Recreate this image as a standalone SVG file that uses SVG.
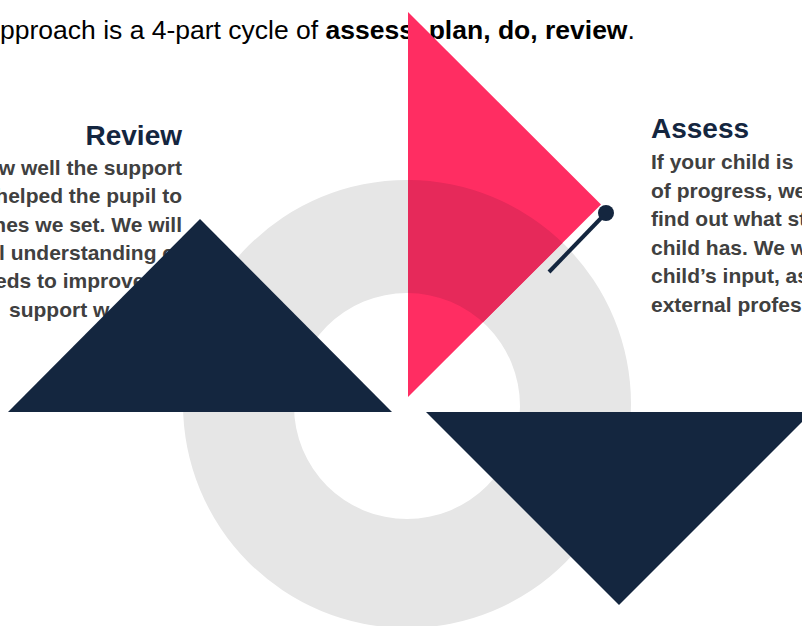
<svg xmlns="http://www.w3.org/2000/svg" width="802" height="626" viewBox="0 0 802 626">
  <style>
    .intro { font-family: "Liberation Sans", Arial, sans-serif; font-size: 26.5px; fill: #000000; }
    .head { font-family: "Liberation Sans", Arial, sans-serif; font-size: 28px; font-weight: bold; fill: #14263f; }
    .body { font-family: "Liberation Sans", Arial, sans-serif; font-size: 21px; font-weight: bold; fill: #404040; }
    .navy { fill: #14263f; }
    .pink { fill: #ff2d62; }
    .ring { fill: #e6e6e6; fill-rule: evenodd; }
  </style>
  <defs>
    <path id="ringShape" d="M 183 404 A 224 224 0 1 0 631 404 A 224 224 0 1 0 183 404 Z M 294 406 A 113 113 0 1 1 520 406 A 113 113 0 1 1 294 406 Z"/>
    <clipPath id="pinkClip">
      <polygon points="408,12 601,204.5 408,397"/>
    </clipPath>
  </defs>
  <rect width="802" height="626" fill="#ffffff"/>

  <g id="intro-text">
    <text class="intro" x="0" y="39">pproach is a 4-part cycle of <tspan font-weight="bold">assess, plan, do, review</tspan>.</text>
  </g>

  <g id="review-text">
    <text class="head" x="182" y="145" text-anchor="end">Review</text>
    <text class="body" x="182" y="175" text-anchor="end">w well the support</text>
    <text class="body" x="182" y="203" text-anchor="end">helped the pupil to</text>
    <text class="body" x="182" y="232" text-anchor="end">nes we set. We will</text>
    <text class="body" x="-1" y="260">l understanding o</text>
    <text class="body" x="-5" y="288">eds to improve</text>
    <text class="body" x="9" y="317">support w</text>
  </g>

  <g id="assess-text">
    <text class="head" x="651" y="138">Assess</text>
    <text class="body" x="651" y="169">If your child is</text>
    <text class="body" x="651" y="198">of progress, we</text>
    <text class="body" x="651" y="226">find out what st</text>
    <text class="body" x="651" y="255">child has. We w</text>
    <text class="body" x="651" y="283">child’s input, as</text>
    <text class="body" x="651" y="312">external profes</text>
  </g>

  <g id="ring">
    <use href="#ringShape" class="ring"/>
  </g>

  <g id="assess-triangle">
    <polygon class="pink" points="408,12 601,204.5 408,397"/>
    <g clip-path="url(#pinkClip)">
      <use href="#ringShape" fill="#e6295a" fill-rule="evenodd"/>
    </g>
  </g>

  <g id="review-triangle">
    <polygon class="navy" points="200,219 392,412 8,412"/>
  </g>

  <g id="plan-triangle">
    <polygon class="navy" points="426,412 812,412 619,605"/>
  </g>

  <g id="connectors">
    <line x1="606" y1="213" x2="549" y2="272" stroke="#14263f" stroke-width="4"/>
    <circle cx="606" cy="213" r="8" fill="#14263f"/>
  </g>
</svg>
